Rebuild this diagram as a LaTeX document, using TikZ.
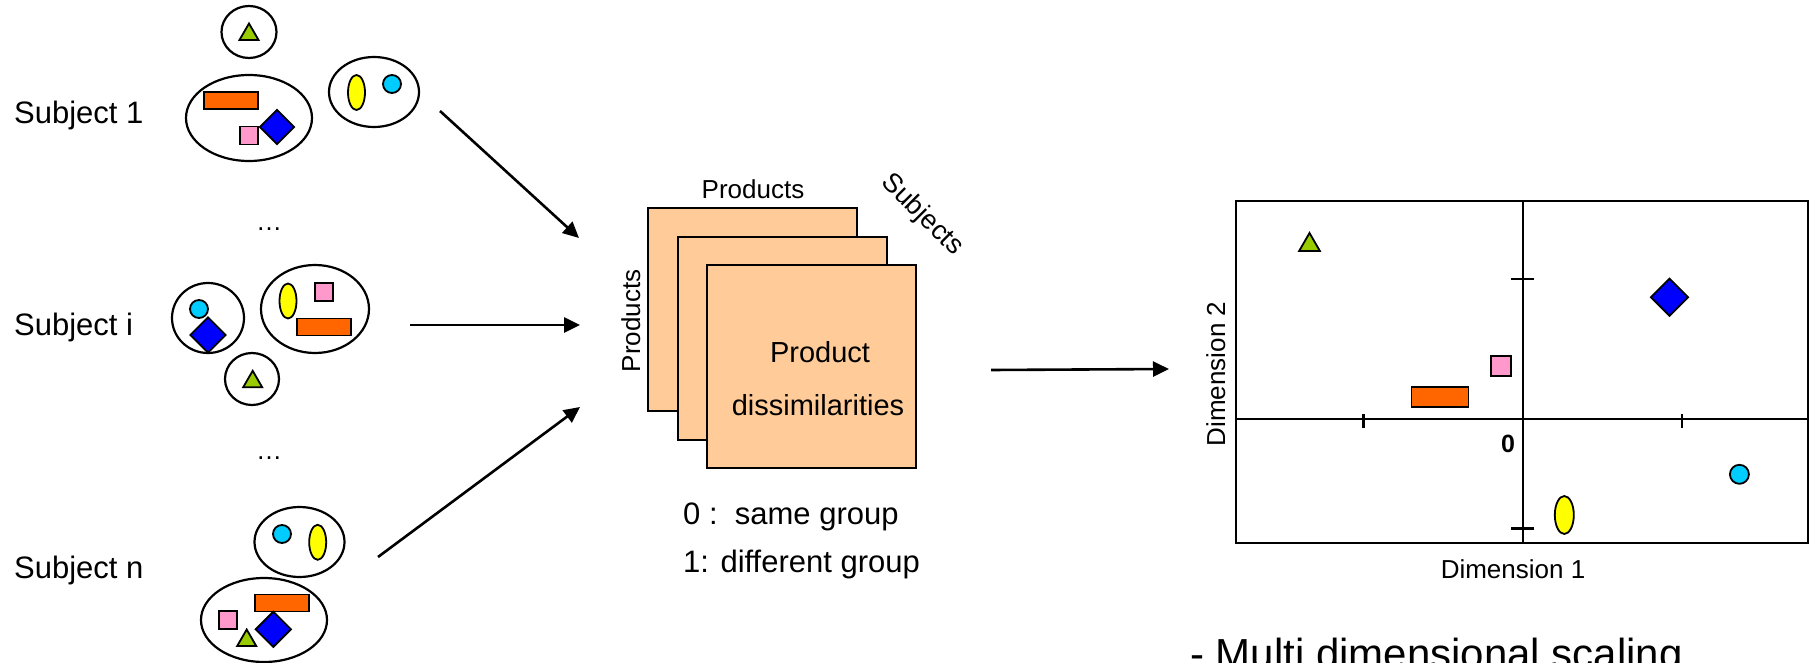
\documentclass[tikz,border=0pt]{standalone}
\usepackage{fontspec}
\setmainfont{Liberation Sans}
\usetikzlibrary{shapes.geometric, arrows.meta}
\definecolor{sheetfill}{HTML}{FFCC99}
\definecolor{barfill}{HTML}{FF6600}
\definecolor{sqfill}{HTML}{FF99CC}
\definecolor{diafill}{HTML}{0000FF}
\definecolor{trifill}{HTML}{99CC00}
\definecolor{ovalfill}{HTML}{FFFF00}
\definecolor{ballfill}{HTML}{00CCFF}
\tikzstyle{group} = [ellipse, draw=black, line width=2.2pt, inner sep=0pt]
\tikzstyle{item} = [draw=black, line width=1.8pt, inner sep=0pt]
\tikzstyle{bar} = [item, rectangle, fill=barfill, minimum width=54pt, minimum height=17pt]
\tikzstyle{sq} = [item, rectangle, fill=sqfill, minimum width=18pt, minimum height=18pt]
\tikzstyle{dia} = [item, diamond, fill=diafill, minimum width=35pt, minimum height=35pt]
\tikzstyle{tri} = [item, regular polygon, regular polygon sides=3, fill=trifill, minimum size=22pt]
\tikzstyle{oval} = [item, ellipse, fill=ovalfill, minimum width=17pt, minimum height=35pt]
\tikzstyle{ball} = [item, circle, fill=ballfill, minimum size=18pt]
\tikzstyle{sheet} = [rectangle, draw=black, line width=2.2pt, fill=sheetfill, minimum width=209pt, minimum height=203pt]
\tikzstyle{arrow} = [line width=2.6pt, -{Triangle[length=16pt,width=15pt]}]
\tikzstyle{axisline} = [line width=2.4pt]
\tikzstyle{subj} = [font=\fontsize{31}{37}\selectfont, inner sep=0pt, anchor=base west]
\tikzstyle{midlbl} = [font=\fontsize{29}{35}\selectfont, inner sep=0pt, anchor=base]
\tikzstyle{axislbl} = [font=\fontsize{26}{31}\selectfont, inner sep=0pt, anchor=base]

\begin{document}
\begin{tikzpicture}[x=1pt, y=-1pt]
\useasboundingbox (0,0) rectangle (1811,663);

\node (s1) [subj] at (14,124) {Subject 1};
\node (si) [subj] at (14,335) {Subject i};
\node (sn) [subj] at (14,578) {Subject n};
\node (dots1) [axislbl] at (269,230) {\dots};
\node (dots2) [axislbl] at (269,459) {\dots};

\node (g1a) [group, minimum width=55pt, minimum height=52pt] at (249,32) {};
\node (t1) [tri] at (249,34.5) {};
\node (g1b) [group, minimum width=126pt, minimum height=86pt] at (249,118) {};
\node (b1) [bar] at (231,100.5) {};
\node (q1) [sq] at (249,135.5) {};
\node (d1) [dia] at (277,127) {};
\node (g1c) [group, minimum width=90pt, minimum height=70pt] at (374,92) {};
\node (o1) [oval] at (356.5,92.5) {};
\node (c1) [ball] at (392,84) {};

\node (g2a) [group, minimum width=72pt, minimum height=70pt] at (208,318) {};
\node (c2) [ball] at (199,309) {};
\node (d2) [dia, minimum width=36pt, minimum height=36pt] at (208,335) {};
\node (g2b) [group, minimum width=108pt, minimum height=88pt] at (315,309) {};
\node (o2) [oval] at (288,301) {};
\node (q2) [sq] at (324,292) {};
\node (b2) [bar] at (324,327) {};
\node (g2c) [group, minimum width=54pt, minimum height=52pt] at (252,379) {};
\node (t2) [tri] at (252.7,381.8) {};

\node (g3a) [group, minimum width=90pt, minimum height=70pt] at (299.5,542) {};
\node (c3) [ball] at (282,534) {};
\node (o3) [oval] at (317.7,542.3) {};
\node (g3b) [group, minimum width=126pt, minimum height=84pt] at (264,620) {};
\node (b3) [bar] at (282,603) {};
\node (q3) [sq] at (228,620) {};
\node (t3) [tri] at (246.7,640.5) {};
\node (d3) [dia, minimum width=36pt, minimum height=36pt] at (273.3,629.3) {};

\coordinate (a1s) at (440,111);
\coordinate (a1e) at (579,238);
\coordinate (a2s) at (410,325);
\coordinate (a2e) at (580,325);
\coordinate (a3s) at (378,557);
\coordinate (a3e) at (580,407);
\coordinate (a4s) at (991,370);
\coordinate (a4e) at (1169,369);
\draw [arrow] (a1s) -- (a1e);
\draw [arrow] (a2s) -- (a2e);
\draw [arrow] (a3s) -- (a3e);
\draw [arrow] (a4s) -- (a4e);

\node (back) [sheet] at (752.5,309.5) {};
\node (mid) [sheet] at ([shift={(30,29)}]back) {};
\node (front) [sheet] at ([shift={(29,28)}]mid) {};
\node (ptop) [axislbl] at (753,199) {Products};
\node (pleft) [axislbl, rotate=90] at (640,321) {Products};
\node (subjs) [axislbl, font=\fontsize{27}{32}\selectfont, anchor=center, rotate=-45] at (922,215) {Subjects};
\node (ptxt) [midlbl] at (820,362) {Product};
\node (dtxt) [midlbl] at (818,415) {dissimilarities};
\node (zero) [subj] at (683,524) {0 :\ \ same group};
\node (one) [subj] at (683,572) {1: different group};

\node (frame) [rectangle, draw=black, line width=2.6pt, outer sep=0pt, minimum width=572pt, minimum height=342pt] at (1522,372) {};
\coordinate (origin) at (1523,419);
\draw [axisline] (origin |- frame.north) -- (origin |- frame.south);
\draw [axisline] (origin -| frame.west) -- (origin -| frame.east);
\foreach \x in {1363.5,1682} \draw [axisline] (\x,414) -- (\x,428);
\foreach \y in {279,528.5} \draw [axisline] (1511,\y) -- (1534,\y);
\node (zlbl) [font=\fontsize{25}{30}\selectfont\bfseries, inner sep=0pt, anchor=base] at (1508,452) {0};

\node (t4) [tri, minimum size=24pt] at (1309.5,245) {};
\node (d4) [dia, minimum width=38pt, minimum height=38pt] at (1669.5,297.3) {};
\node (q4) [sq, minimum width=20pt, minimum height=20pt] at (1500.7,366) {};
\node (b4) [bar, minimum width=57pt, minimum height=19.5pt] at (1440,397) {};
\node (c4) [ball, minimum size=19pt] at (1739.4,474.3) {};
\node (o4) [oval, minimum width=19pt, minimum height=38pt] at (1564.3,515) {};

\node (dim2) [axislbl, rotate=90] at (1225,374) {Dimension 2};
\node (dim1) [axislbl] at (1513,578) {Dimension 1};
\node (mds) [font=\fontsize{42}{50}\selectfont, inner sep=0pt, anchor=base west] at (1190,668) {- Multi dimensional scaling};
\end{tikzpicture}
\end{document}
